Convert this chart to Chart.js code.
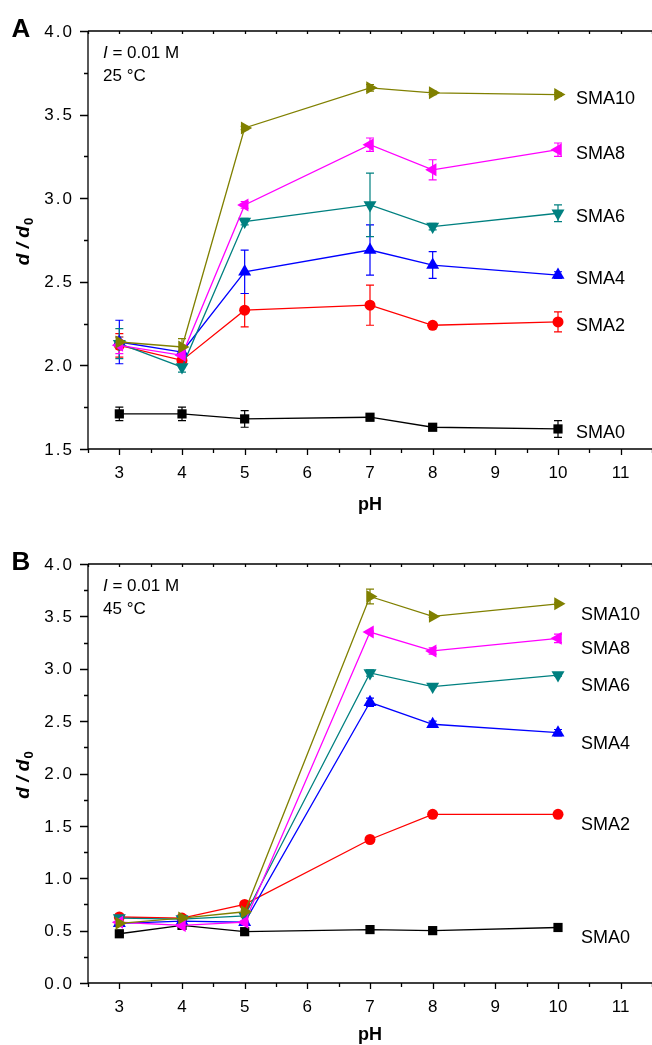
<!DOCTYPE html>
<html><head><meta charset="utf-8">
<script src="https://cdn.jsdelivr.net/npm/chart.js@4.4.1/dist/chart.umd.min.js"></script>
<style>html,body{margin:0;padding:0;background:#fff;overflow:hidden}
canvas{position:absolute;left:0;display:block}
#c1{top:0}#c2{top:522px}
</style></head><body>
<canvas id="c1" width="652" height="522"></canvas>
<canvas id="c2" width="652" height="523"></canvas>
<script>
// ---- data ----
const pH = [3, 4, 5, 7, 8, 10];
const seriesNames = ['SMA0', 'SMA2', 'SMA4', 'SMA6', 'SMA8', 'SMA10'];
const xTickLabels = ['3', '4', '5', '6', '7', '8', '9', '10', '11'];
const yTickLabelsA = ['1.5', '2.0', '2.5', '3.0', '3.5', '4.0'];
const yTickLabelsB = ['0.0', '0.5', '1.0', '1.5', '2.0', '2.5', '3.0', '3.5', '4.0'];

// Panel A : I = 0.01 M, 25 °C
const sma0A  = [1.71, 1.71, 1.68, 1.69, 1.63, 1.62];
const sma2A  = [2.12, 2.03, 2.33, 2.36, 2.24, 2.26];
const sma4A  = [2.14, 2.08, 2.56, 2.69, 2.60, 2.54];
const sma6A  = [2.13, 1.99, 2.86, 2.96, 2.83, 2.91];
const sma8A  = [2.12, 2.06, 2.96, 3.32, 3.17, 3.29];
const sma10A = [2.14, 2.11, 3.42, 3.66, 3.63, 3.62];
const err0A  = [0.04, 0.04, 0.05, 0.02, 0.01, 0.05];
const err2A  = [0.07, 0.03, 0.10, 0.12, 0.01, 0.06];
const err4A  = [0.13, 0.03, 0.13, 0.15, 0.08, 0.02];
const err6A  = [0.09, 0.03, 0.02, 0.19, 0.02, 0.05];
const err8A  = [0.05, 0.03, 0.02, 0.04, 0.06, 0.04];
const err10A = [0.03, 0.05, 0.01, 0.02, 0.01, 0.01];

// Panel B : I = 0.01 M, 45 °C
const sma0B  = [0.47, 0.55, 0.49, 0.51, 0.50, 0.53];
const sma2B  = [0.63, 0.62, 0.75, 1.37, 1.61, 1.61];
const sma4B  = [0.57, 0.59, 0.58, 2.68, 2.47, 2.39];
const sma6B  = [0.62, 0.61, 0.64, 2.96, 2.83, 2.94];
const sma8B  = [0.58, 0.55, 0.58, 3.35, 3.17, 3.29];
const sma10B = [0.57, 0.62, 0.68, 3.69, 3.50, 3.62];
const err0B  = [0.02, 0.01, 0.01, 0.01, 0.01, 0.01];
const err2B  = [0.01, 0.01, 0.01, 0.01, 0.01, 0.01];
const err4B  = [0.02, 0.01, 0.01, 0.04, 0.03, 0.03];
const err6B  = [0.02, 0.01, 0.01, 0.03, 0.01, 0.01];
const err8B  = [0.02, 0.02, 0.01, 0.01, 0.03, 0.04];
const err10B = [0.02, 0.02, 0.01, 0.07, 0.01, 0.01];

// ---- styles ----
const colors = ['#000000', '#ff0000', '#0000ff', '#008080', '#ff00ff', '#808000'];
const styles = [
  {pointStyle: 'rect', rotation: 0, r: 6.5},
  {pointStyle: 'circle', rotation: 0, r: 5.5},
  {pointStyle: 'triangle', rotation: 0, r: 7.5},
  {pointStyle: 'triangle', rotation: 180, r: 7.5},
  {pointStyle: 'triangle', rotation: 270, r: 7.5},
  {pointStyle: 'triangle', rotation: 90, r: 7.5}
];
const FONT = '"Liberation Sans", Arial, sans-serif';

function makePanel(canvasId, values, errs, yTicks, cfg) {
  const yMin = Number(yTicks[0]);
  const yMax = Number(yTicks[yTicks.length - 1]);
  const datasets = values.map((vals, i) => ({
    label: seriesNames[i],
    data: pH.map((x, j) => ({x: x, y: vals[j]})),
    borderColor: colors[i],
    backgroundColor: colors[i],
    borderWidth: 1.3,
    pointStyle: styles[i].pointStyle,
    rotation: styles[i].rotation,
    pointRadius: styles[i].r,
    pointBorderWidth: 0,
    showLine: true,
    tension: 0,
    order: values.length - i,
    clip: false
  }));

  const plugin = {
    id: 'decor',
    beforeDatasetsDraw(chart) {
      const ctx = chart.ctx, xs = chart.scales.x, ys = chart.scales.y;
      ctx.save();
      ctx.lineWidth = 1.2;
      values.forEach((vals, i) => {
        ctx.strokeStyle = colors[i];
        vals.forEach((v, j) => {
          const e = errs[i][j];
          if (!e) return;
          const px = xs.getPixelForValue(pH[j]);
          const y1 = ys.getPixelForValue(v + e), y2 = ys.getPixelForValue(v - e);
          ctx.beginPath();
          ctx.moveTo(px, y1); ctx.lineTo(px, y2);
          ctx.moveTo(px - 4, y1); ctx.lineTo(px + 4, y1);
          ctx.moveTo(px - 4, y2); ctx.lineTo(px + 4, y2);
          ctx.stroke();
        });
      });
      ctx.restore();
    },
    afterDraw(chart) {
      const ctx = chart.ctx, xs = chart.scales.x, ys = chart.scales.y, ca = chart.chartArea;
      ctx.save();
      ctx.strokeStyle = '#000';
      ctx.fillStyle = '#000';
      ctx.lineWidth = 1.3;
      // spines
      ctx.beginPath();
      ctx.moveTo(ca.left, ca.top); ctx.lineTo(ca.left, ca.bottom);
      ctx.lineTo(ca.right, ca.bottom);
      ctx.moveTo(ca.left, ca.top); ctx.lineTo(ca.right, ca.top);
      ctx.stroke();
      // y ticks
      ctx.beginPath();
      const nY = Math.round((yMax - yMin) / 0.25);
      for (let k = 0; k <= nY; k++) {
        const v = yMin + k * 0.25;
        const py = Math.round(ys.getPixelForValue(v)) + 0.5;
        const len = (k % 2 === 0) ? 8 : 4;
        ctx.moveTo(ca.left - len, py); ctx.lineTo(ca.left, py);
      }
      // x ticks (bottom outward, top inward)
      for (let k = 0; k <= 18; k++) {
        const v = 2.5 + k * 0.5;
        const px = Math.round(xs.getPixelForValue(v)) + 0.5;
        const len = (k % 2 === 1) ? 6 : 4;
        ctx.moveTo(px, ca.bottom); ctx.lineTo(px, ca.bottom + len);
        ctx.moveTo(px, ca.top); ctx.lineTo(px, ca.top + 3);
      }
      ctx.stroke();
      // y tick labels
      ctx.font = '17px ' + FONT;
      ctx.textAlign = 'right';
      ctx.textBaseline = 'middle';
      ctx.letterSpacing = '2px';
      yTicks.forEach(l => {
        ctx.fillText(l, ca.left - 14, ys.getPixelForValue(Number(l)) + 1);
      });
      ctx.letterSpacing = '0px';
      // x tick labels
      ctx.textAlign = 'center';
      xTickLabels.forEach(l => {
        ctx.fillText(l, xs.getPixelForValue(Number(l)), ca.bottom + 24);
      });
      // x title
      ctx.font = 'bold 18px ' + FONT;
      ctx.fillText('pH', (ca.left + ca.right) / 2, ca.bottom + cfg.pHOffset);
      // y title  d / d0
      ctx.save();
      ctx.translate(22, (ca.top + ca.bottom) / 2 + 2);
      ctx.rotate(-Math.PI / 2);
      ctx.font = 'italic bold 19px ' + FONT;
      const main = 'd / d';
      const wMain = ctx.measureText(main).width;
      ctx.font = 'bold 13px ' + FONT;
      const wSub = ctx.measureText('0').width;
      const x0 = -(wMain + wSub) / 2;
      ctx.textAlign = 'left';
      ctx.textBaseline = 'alphabetic';
      ctx.font = 'italic bold 19px ' + FONT;
      ctx.fillText(main, x0, 7);
      ctx.font = 'bold 13px ' + FONT;
      ctx.fillText('0', x0 + wMain + 1, 11);
      ctx.restore();
      // panel letter
      ctx.font = 'bold 26px ' + FONT;
      ctx.textAlign = 'center';
      ctx.textBaseline = 'middle';
      ctx.fillText(cfg.letter, 21, ca.top - 1);
      // conditions
      ctx.textAlign = 'left';
      ctx.font = 'italic 17px ' + FONT;
      ctx.fillText('I', 103, ca.top + 22);
      const wI = ctx.measureText('I').width;
      ctx.font = '17px ' + FONT;
      ctx.fillText(' = 0.01 M', 103 + wI, ca.top + 22);
      ctx.fillText(cfg.temp, 103, ca.top + 45);
      // series labels
      ctx.font = '18px ' + FONT;
      values.forEach((vals, i) => {
        const last = vals.length - 1;
        const px = xs.getPixelForValue(pH[last]) + cfg.labelDx;
        const py = ys.getPixelForValue(vals[last]) + cfg.labelDy;
        ctx.fillText(seriesNames[i], px, py);
      });
      ctx.restore();
    }
  };

  return new Chart(document.getElementById(canvasId), {
    type: 'scatter',
    data: {datasets: datasets},
    options: {
      responsive: false,
      animation: false,
      devicePixelRatio: 1,
      layout: {autoPadding: false, padding: {top: cfg.padTop, left: 0, right: 0, bottom: 0}},
      plugins: {legend: {display: false}, tooltip: {enabled: false}},
      scales: {
        x: {
          type: 'linear', min: 2.5, max: 11.5,
          ticks: {display: false, stepSize: 1, includeBounds: false},
          grid: {display: false}, border: {display: false},
          afterFit: s => { s.height = cfg.xHeight; }
        },
        y: {
          type: 'linear', min: yMin, max: yMax,
          ticks: {display: false, stepSize: 0.5},
          grid: {display: false}, border: {display: false},
          afterFit: s => { s.width = 88; }
        }
      }
    },
    plugins: [plugin]
  });
}

makePanel('c1',
  [sma0A, sma2A, sma4A, sma6A, sma8A, sma10A],
  [err0A, err2A, err4A, err6A, err8A, err10A],
  yTickLabelsA,
  {letter: 'A', temp: '25 °C', padTop: 31, xHeight: 73, pHOffset: 56, labelDx: 18, labelDy: 4});

makePanel('c2',
  [sma0B, sma2B, sma4B, sma6B, sma8B, sma10B],
  [err0B, err2B, err4B, err6B, err8B, err10B],
  yTickLabelsB,
  {letter: 'B', temp: '45 °C', padTop: 42, xHeight: 62, pHOffset: 52, labelDx: 23, labelDy: 11});
</script>
</body></html>
